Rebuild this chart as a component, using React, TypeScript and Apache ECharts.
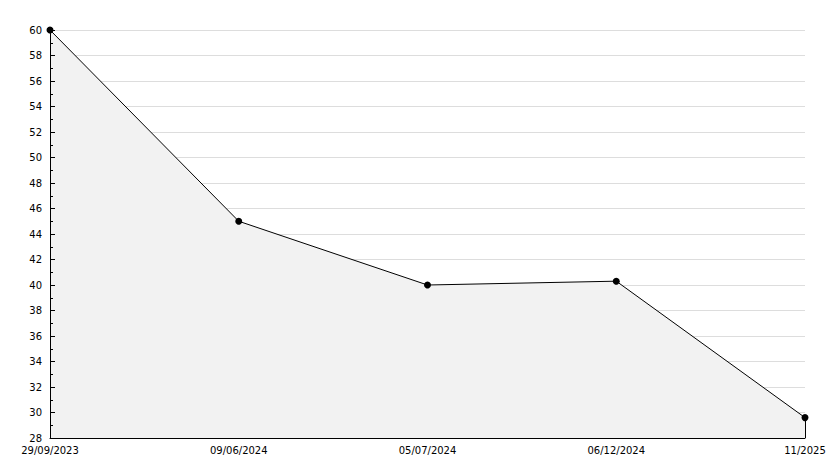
import React, { useEffect, useRef } from "react";
import * as echarts from "echarts";

const categories = ["29/09/2023", "09/06/2024", "05/07/2024", "06/12/2024", "11/2025"];
const values = [60, 45, 40, 40.3, 29.6];
const yMin = 28;
const yMax = 60;
const yStep = 2;

export default function App() {
  const ref = useRef<HTMLDivElement>(null);
  useEffect(() => {
    if (!ref.current) return;
    const chart = echarts.init(ref.current, undefined, { renderer: "svg" });
    const last = categories.length - 1;
    chart.setOption({
      animation: false,
      backgroundColor: "#ffffff",
      textStyle: { fontFamily: "DejaVu Sans", fontSize: 10, color: "#000" },
      grid: { left: 50, right: 29, top: 30, bottom: 30, containLabel: false },
      xAxis: {
        type: "category",
        data: categories,
        boundaryGap: false,
        z: 5,
        axisLine: { show: true, lineStyle: { color: "#000", width: 1 } },
        axisTick: { show: false },
        axisLabel: {
          interval: 0,
          margin: 7,
          color: "#000",
          fontFamily: "DejaVu Sans",
          fontSize: 10,
          showMinLabel: true,
          showMaxLabel: true,
        },
        splitLine: { show: false },
      },
      yAxis: [
        {
          type: "value",
          min: yMin,
          max: yMax,
          interval: yStep,
          z: 0,
          axisLine: { show: false },
          axisTick: { show: false },
          axisLabel: { show: false },
          splitLine: { show: true, lineStyle: { color: "#dddddd", width: 1 } },
        },
        {
          type: "value",
          min: yMin,
          max: yMax,
          interval: yStep,
          position: "left",
          z: 5,
          axisLine: { show: true, lineStyle: { color: "#000", width: 1 } },
          axisTick: { show: true, inside: true, length: 5, lineStyle: { color: "#000" } },
          minorTick: { show: true, splitNumber: 2, length: 3, lineStyle: { color: "#000" } },
          axisLabel: { margin: 8, color: "#000", fontFamily: "DejaVu Sans", fontSize: 10 },
          splitLine: { show: false },
        },
      ],
      series: [
        {
          type: "line",
          yAxisIndex: 0,
          data: values,
          symbol: "circle",
          symbolSize: 7,
          showSymbol: true,
          z: 3,
          itemStyle: { color: "#000" },
          lineStyle: { color: "#000", width: 1 },
          areaStyle: { color: "#f2f2f2", opacity: 1 },
          markLine: {
            silent: true,
            symbol: "none",
            label: { show: false },
            lineStyle: { color: "#000", width: 1, type: "solid" },
            data: [
              [
                { coord: [categories[last], values[last]] },
                { coord: [categories[last], yMin] },
              ],
            ],
          },
        },
      ],
    });
    return () => chart.dispose();
  }, []);
  return (
    <div
      ref={ref}
      style={{ position: "absolute", left: 0, top: 0, width: 834, height: 468 }}
    />
  );
}
